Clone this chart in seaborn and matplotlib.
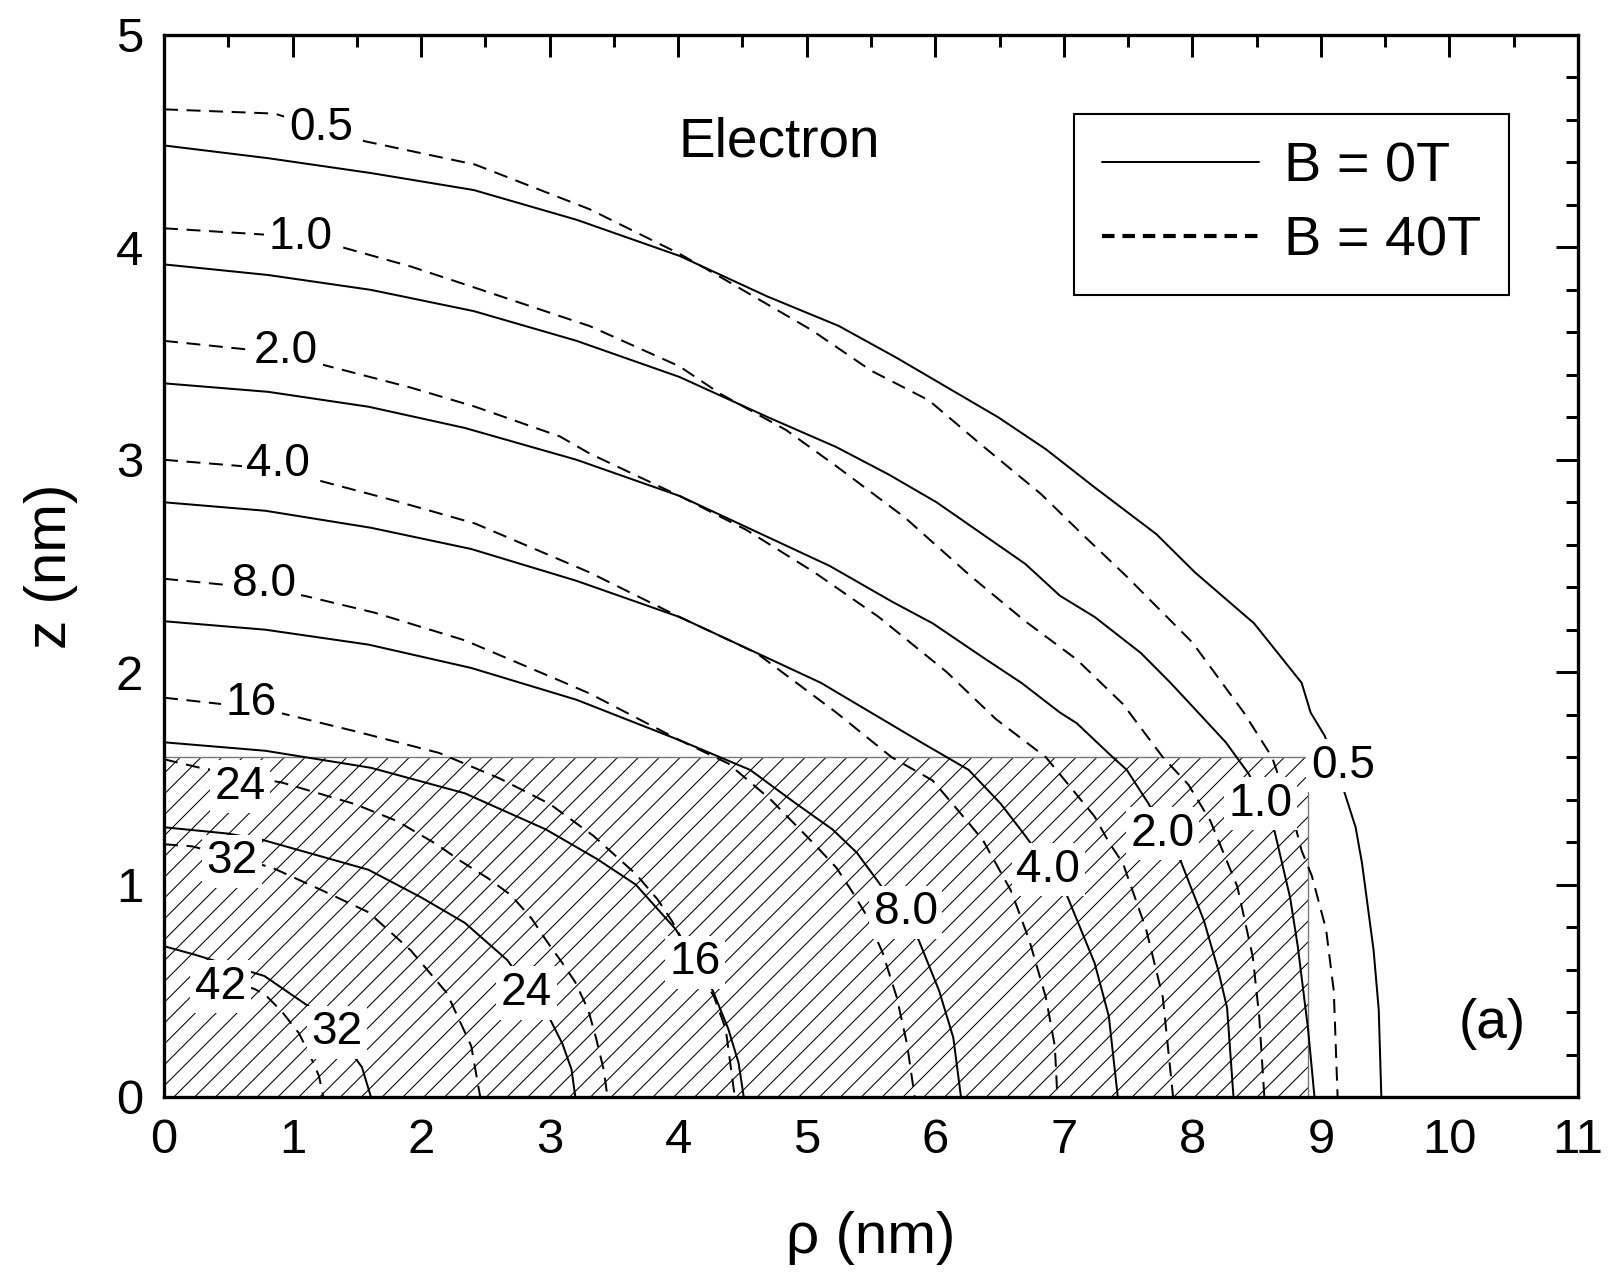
import numpy as np
import pandas as pd
import matplotlib
matplotlib.use('Agg')
import matplotlib.pyplot as plt
from matplotlib.lines import Line2D
from matplotlib.patches import Rectangle
from matplotlib.ticker import MultipleLocator
import seaborn as sns

# --- 1. Density contours, (rho, z) in nm ---

# B = 0T (solid)
b0_05 = [(0, 4.48), (0.81, 4.42), (1.61, 4.35), (2.41, 4.27), (3.21, 4.13), (4.01, 3.96),
         (4.69, 3.77), (5.25, 3.63), (5.70, 3.48), (6.49, 3.20), (6.86, 3.05), (7.24, 2.87),
         (7.72, 2.65), (8.02, 2.47), (8.48, 2.23), (8.85, 1.95), (8.92, 1.81), (9.03, 1.70),
         (9.18, 1.44), (9.27, 1.27), (9.32, 1.10), (9.41, 0.69), (9.45, 0.41), (9.47, 0)]
b0_10 = [(0, 3.92), (0.81, 3.87), (1.61, 3.80), (2.41, 3.70), (3.21, 3.56), (4.01, 3.39),
         (4.70, 3.20), (5.23, 3.06), (5.64, 2.93), (6.01, 2.80), (6.70, 2.51), (6.97, 2.36),
         (7.24, 2.26), (7.60, 2.09), (7.83, 1.95), (8.03, 1.82), (8.26, 1.67), (8.44, 1.52),
         (8.64, 1.25), (8.76, 0.94), (8.82, 0.71), (8.90, 0.32), (8.95, 0)]
b0_20 = [(0, 3.36), (0.81, 3.32), (1.59, 3.25), (2.34, 3.15), (3.21, 3.00), (4.01, 2.83),
         (5.18, 2.50), (5.67, 2.33), (5.98, 2.23), (6.37, 2.07), (6.67, 1.95), (6.97, 1.81),
         (7.10, 1.76), (7.38, 1.60), (7.49, 1.54), (7.66, 1.38), (7.91, 1.11), (8.09, 0.83),
         (8.20, 0.60), (8.27, 0.42), (8.32, 0)]
b0_40 = [(0, 2.80), (0.79, 2.76), (1.61, 2.68), (2.39, 2.58), (3.21, 2.43), (4.01, 2.26),
         (5.11, 1.95), (5.89, 1.67), (6.26, 1.54), (6.51, 1.38), (6.70, 1.23), (7.01, 0.97),
         (7.24, 0.63), (7.35, 0.38), (7.42, 0)]
b0_80 = [(0, 2.24), (0.79, 2.20), (1.59, 2.13), (2.39, 2.02), (3.21, 1.87), (4.01, 1.68),
         (4.56, 1.54), (4.92, 1.38), (5.20, 1.26), (5.39, 1.15), (5.56, 1.01), (5.87, 0.74),
         (6.03, 0.50), (6.14, 0.28), (6.20, 0)]
b0_16 = [(0, 1.67), (0.79, 1.63), (1.61, 1.55), (2.34, 1.43), (2.97, 1.26), (3.37, 1.12),
         (3.67, 1.00), (3.98, 0.79), (4.27, 0.50), (4.39, 0.32), (4.47, 0.16), (4.51, 0)]
b0_24 = [(0, 1.27), (0.50, 1.24), (0.77, 1.21), (1.59, 1.07), (2.00, 0.94), (2.34, 0.82),
         (2.67, 0.645), (3.00, 0.37), (3.10, 0.25), (3.17, 0.13), (3.20, 0)]
b0_32 = [(0, 0.71), (0.24, 0.67), (0.67, 0.59), (0.78, 0.57), (1.13, 0.425), (1.48, 0.19),
         (1.54, 0.14), (1.61, 0)]

# B = 40T (dashed)
b40_05 = [(0, 4.65), (0.86, 4.63), (1.56, 4.50), (2.42, 4.39), (3.31, 4.18), (4.01, 3.97),
          (4.33, 3.86), (5.04, 3.61), (5.50, 3.42), (5.95, 3.28), (6.34, 3.08), (6.82, 2.84),
          (7.16, 2.64), (7.49, 2.45), (8.00, 2.14), (8.17, 2.00), (8.40, 1.81), (8.62, 1.60),
          (8.79, 1.30), (8.85, 1.16), (8.93, 1.04), (9.04, 0.79), (9.10, 0.50), (9.13, 0)]
b40_10 = [(0, 4.09), (0.79, 4.06), (1.39, 4.00), (1.92, 3.91), (2.42, 3.81), (3.31, 3.63),
          (4.01, 3.44), (4.33, 3.31), (4.84, 3.14), (5.23, 2.97), (5.76, 2.73), (6.28, 2.45),
          (6.70, 2.24), (7.10, 2.06), (7.46, 1.85), (7.77, 1.60), (7.97, 1.47), (8.14, 1.30),
          (8.35, 0.99), (8.47, 0.66), (8.52, 0.38), (8.56, 0)]
b40_20 = [(0, 3.56), (0.64, 3.52), (1.22, 3.45), (1.92, 3.34), (2.42, 3.25), (3.08, 3.11),
          (3.31, 3.03), (4.01, 2.83), (4.53, 2.67), (5.06, 2.47), (5.56, 2.26), (6.09, 2.00),
          (6.47, 1.78), (6.86, 1.60), (7.24, 1.32), (7.35, 1.20), (7.46, 1.10), (7.64, 0.79),
          (7.77, 0.47), (7.85, 0)]
b40_40 = [(0, 3.00), (0.61, 2.97), (1.22, 2.90), (1.78, 2.81), (2.42, 2.70), (3.31, 2.47),
          (4.01, 2.26), (4.61, 2.09), (5.23, 1.81), (5.66, 1.60), (5.98, 1.49), (6.26, 1.29),
          (6.37, 1.21), (6.59, 0.97), (6.73, 0.74), (6.86, 0.47), (6.93, 0.24), (6.95, 0)]
b40_80 = [(0, 2.44), (0.50, 2.41), (1.09, 2.36), (1.64, 2.28), (2.34, 2.15), (3.08, 1.96),
          (3.31, 1.90), (4.01, 1.68), (4.39, 1.57), (4.72, 1.40), (5.06, 1.19), (5.23, 1.08),
          (5.35, 0.97), (5.45, 0.87), (5.59, 0.68), (5.70, 0.47), (5.78, 0.25), (5.84, 0)]
b40_16 = [(0, 1.88), (0.45, 1.85), (0.89, 1.81), (1.50, 1.72), (2.14, 1.62), (2.61, 1.50),
          (3.00, 1.38), (3.34, 1.23), (3.67, 1.05), (3.84, 0.93), (3.95, 0.83), (4.28, 0.47),
          (4.37, 0.32), (4.44, 0)]
b40_24 = [(0, 1.59), (0.28, 1.55), (0.92, 1.48), (1.20, 1.43), (1.48, 1.38), (1.81, 1.30),
          (2.12, 1.19), (2.31, 1.11), (2.52, 1.03), (2.70, 0.95), (2.86, 0.84), (2.97, 0.74),
          (3.10, 0.63), (3.20, 0.54), (3.30, 0.41), (3.36, 0.28), (3.42, 0.13), (3.45, 0)]
b40_32 = [(0, 1.19), (0.22, 1.18), (0.84, 1.08), (1.24, 0.97), (1.59, 0.87), (1.92, 0.69),
          (2.20, 0.49), (2.39, 0.24), (2.46, 0)]
b40_42 = [(0.30, 0.56), (0.70, 0.51), (0.79, 0.48), (0.92, 0.40), (1.05, 0.30), (1.14, 0.19),
          (1.205, 0.10), (1.24, 0)]

# contour labels (text, rho, z)
labels_b0 = [('0.5', 9.17, 1.56), ('1.0', 8.53, 1.38), ('2.0', 7.77, 1.24), ('4.0', 6.88, 1.07),
             ('8.0', 5.77, 0.87), ('16', 4.13, 0.635), ('24', 2.82, 0.49), ('32', 1.345, 0.305)]
labels_b40 = [('0.5', 1.22, 4.56), ('1.0', 1.06, 4.05), ('2.0', 0.95, 3.51), ('4.0', 0.89, 2.98),
              ('8.0', 0.78, 2.415), ('16', 0.68, 1.855), ('24', 0.59, 1.46), ('32', 0.53, 1.11),
              ('42', 0.44, 0.52)]

# hatched dot region
dot_radius = 8.9
dot_height = 1.6

fields = ['B = 0T', 'B = 40T']
curves = [(fields[0], c) for c in [b0_05, b0_10, b0_20, b0_40, b0_80, b0_16, b0_24, b0_32]] + \
         [(fields[1], c) for c in [b40_05, b40_10, b40_20, b40_40, b40_80, b40_16, b40_24, b40_32, b40_42]]

rows = []
for i, (field, pts) in enumerate(curves):
    for rho, z in pts:
        rows.append({'rho': rho, 'z': z, 'field': field, 'curve': i})
df = pd.DataFrame(rows)

# --- 2. Style ---
sns.set_theme(style='white')
plt.rcParams['font.family'] = ['Liberation Sans', 'DejaVu Sans']
plt.rcParams.update({
    'axes.edgecolor': 'black', 'axes.labelcolor': 'black', 'text.color': 'black',
    'xtick.color': 'black', 'ytick.color': 'black', 'hatch.linewidth': 0.6,
    'hatch.color': 'black',
})

fig = plt.figure(figsize=(12.864, 10.232), dpi=125)
ax = fig.add_axes([164 / 1608, 1 - 1097 / 1279, 1414 / 1608, 1062 / 1279])

# --- 3. Plot ---
ax.add_patch(Rectangle((0, 0), dot_radius, dot_height, facecolor='none', edgecolor='black',
                       hatch='//', linewidth=0, zorder=1))
ax.add_patch(Rectangle((0, 0), dot_radius, dot_height, fill=False, edgecolor='#7a7a7a',
                       linewidth=0.8, zorder=1.5))

sns.lineplot(data=df, x='rho', y='z', style='field', units='curve', estimator=None, sort=False,
             color='black', dashes={fields[0]: '', fields[1]: (7, 4.3)}, linewidth=1.15,
             legend=False, ax=ax, zorder=2)

for txt, rho, z in labels_b0 + labels_b40:
    ax.text(rho, z, txt, ha='center', va='center', fontsize=26.5, zorder=4,
            bbox=dict(boxstyle='square,pad=0.1', fc='white', ec='none'))

ax.text(4.79, 4.427, 'Electron', ha='center', va='baseline', fontsize=31.6)
ax.text(10.33, 0.278, '(a)', ha='center', va='baseline', fontsize=31.7)

handles = [Line2D([], [], color='black', lw=1.15),
           Line2D([], [], color='black', lw=2.4, dashes=(3.0, 1.9))]
leg = ax.legend(handles, fields, loc='upper left', bbox_to_anchor=(0.6436, 0.9256),
                fontsize=32.2, frameon=True, fancybox=False, edgecolor='black', framealpha=1,
                borderaxespad=0, handlelength=2.8, handletextpad=0.45, borderpad=0.5,
                labelspacing=0.38)
leg.get_frame().set_linewidth(1.2)

ax.set_xlim(0, 11)
ax.set_ylim(0, 5)
ax.xaxis.set_major_locator(MultipleLocator(1))
ax.xaxis.set_minor_locator(MultipleLocator(0.5))
ax.yaxis.set_major_locator(MultipleLocator(1))
ax.yaxis.set_minor_locator(MultipleLocator(0.2))
ax.tick_params(which='both', direction='in', top=True, right=True, width=1.7,
               labelsize=28.2, pad=12)
ax.tick_params(which='major', length=12.7)
ax.tick_params(which='minor', length=7)
for s in ax.spines.values():
    s.set_linewidth(1.9)
    s.set_color('black')

ax.set_xlabel('ρ (nm)', fontsize=33.7, labelpad=28)
ax.set_ylabel('z (nm)', fontsize=33.7, labelpad=22)

fig.savefig('out.png', dpi=125)
